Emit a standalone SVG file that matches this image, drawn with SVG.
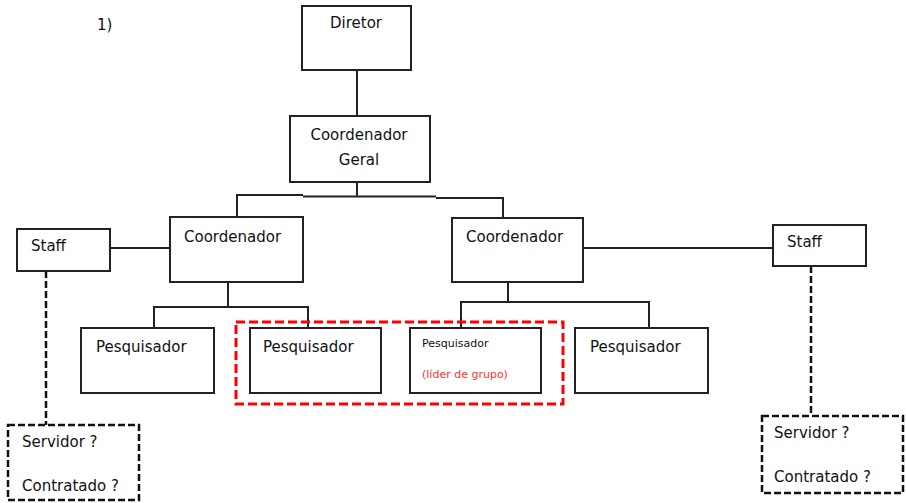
<svg xmlns="http://www.w3.org/2000/svg" width="906" height="503" viewBox="0 0 906 503">
<style>
.box{fill:#fff;stroke:#222;stroke-width:2}
.ln{fill:none;stroke:#222;stroke-width:2}
.dash{fill:none;stroke:#111;stroke-width:2.5;stroke-dasharray:7,3}
.red{fill:none;stroke:#f00;stroke-width:3;stroke-dasharray:9,4}
text{font-family:"DejaVu Sans",sans-serif;font-size:15px;fill:#111}
.sm{font-size:11px}
.rt{font-size:11px;fill:#f33}
</style>
<rect width="906" height="503" fill="#fff"/>
<text x="97" y="30">1)</text>
<g id="connectors">
<line class="ln" x1="357" y1="70" x2="357" y2="116"/>
<line class="ln" x1="357" y1="182" x2="357" y2="196"/>
<polyline class="ln" points="237,217 237,195 303,195"/>
<line class="ln" x1="303" y1="196.5" x2="436" y2="196.5"/>
<polyline class="ln" points="436,198 503,198 503,218"/>
<line class="ln" x1="110" y1="248" x2="170" y2="248"/>
<line class="ln" x1="583" y1="248" x2="773" y2="248"/>
<polyline class="ln" points="228,282 228,307"/>
<polyline class="ln" points="154,328 154,307 308,307 308,328"/>
<polyline class="ln" points="508,282 508,302"/>
<polyline class="ln" points="461,328 461,302 649,302 649,328"/>
<line class="dash" x1="46" y1="271" x2="46" y2="425"/>
<line class="dash" x1="811" y1="266" x2="811" y2="416"/>
</g>
<g id="diretor"><rect class="box" x="302" y="6" width="109" height="64"/><text x="356" y="28" text-anchor="middle">Diretor</text></g>
<g id="coord-geral"><rect class="box" x="290" y="116" width="140" height="66"/><text x="359" y="140" text-anchor="middle">Coordenador</text><text x="359" y="165" text-anchor="middle">Geral</text></g>
<g id="coord-left"><rect class="box" x="170" y="217" width="133" height="65"/><text x="184" y="242">Coordenador</text></g>
<g id="coord-right"><rect class="box" x="452" y="218" width="131" height="64"/><text x="466" y="242">Coordenador</text></g>
<g id="staff-left"><rect class="box" x="17" y="229" width="93" height="42"/><text x="31" y="251">Staff</text></g>
<g id="staff-right"><rect class="box" x="773" y="225" width="93" height="41"/><text x="787" y="247">Staff</text></g>
<g id="pesq1"><rect class="box" x="81" y="328" width="133" height="65"/><text x="96" y="352">Pesquisador</text></g>
<g id="pesq2"><rect class="box" x="250" y="328" width="131" height="65"/><text x="263" y="352">Pesquisador</text></g>
<g id="pesq3"><rect class="box" x="410" y="328" width="131" height="65"/><text class="sm" x="422" y="347">Pesquisador</text><text class="rt" x="422" y="378">(líder de grupo)</text></g>
<g id="pesq4"><rect class="box" x="575" y="328" width="133" height="65"/><text x="590" y="352">Pesquisador</text></g>
<g id="grupo"><rect class="red" x="236" y="322" width="327" height="82"/></g>
<g id="tipo-left"><rect class="dash" x="8" y="425" width="131" height="75"/><text x="22" y="447">Servidor ?</text><text x="22" y="491">Contratado ?</text></g>
<g id="tipo-right"><rect class="dash" x="762" y="416" width="141" height="77"/><text x="774" y="438">Servidor ?</text><text x="774" y="482">Contratado ?</text></g>
</svg>
